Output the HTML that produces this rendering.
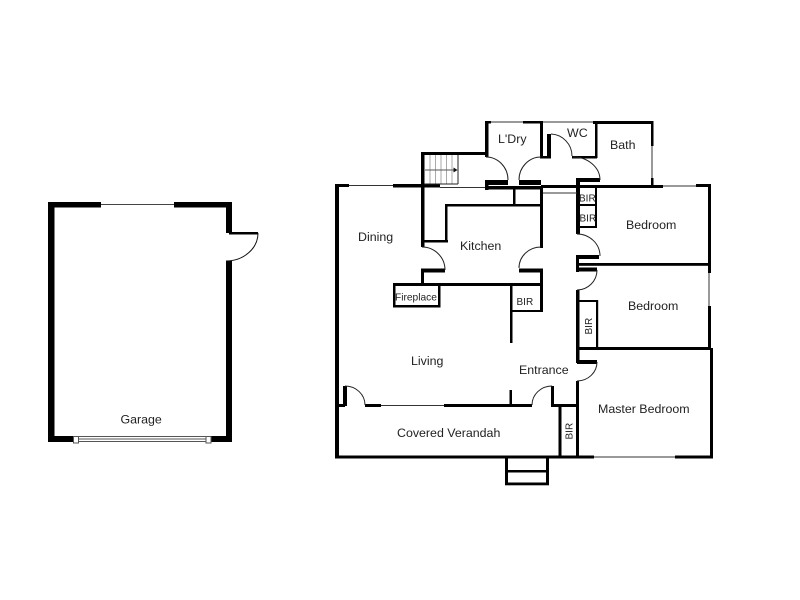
<!DOCTYPE html>
<html><head><meta charset="utf-8"><style>
html,body{margin:0;padding:0;background:#fff}
svg{display:block;filter:blur(.35px)}
text{font-family:"Liberation Sans",sans-serif;font-size:12.4px;fill:#222}
.s{font-size:10px}
</style></head><body>
<svg width="800" height="600" viewBox="0 0 800 600" xmlns="http://www.w3.org/2000/svg">
<rect width="800" height="600" fill="#fff"/>
<!-- Garage -->
<g fill="#000">
<rect x="48" y="202" width="53" height="5.5"/>
<rect x="174" y="202" width="58" height="5.5"/>
<rect x="48" y="202" width="6.5" height="240"/>
<rect x="226" y="202" width="6" height="31"/>
<rect x="226" y="261" width="6" height="181"/>
<rect x="48" y="436" width="25" height="6"/>
<rect x="207" y="436" width="25" height="6"/>
<rect x="229" y="232" width="29" height="2.5"/>
</g>
<path d="M101 204.5H174" stroke="#444" fill="none"/>
<path d="M258 233A32 28 0 0 1 226 261" fill="none" stroke="#111"/>
<g fill="#fff" stroke="#555">
<rect x="73.5" y="436.5" width="5" height="6.5"/>
<rect x="206" y="436.5" width="5" height="6.5"/>
<path d="M79 436.5H206M79 439H206M79 441.5H206" fill="none"/>
</g>
<!-- House walls -->
<g fill="#000">
<rect x="335" y="184" width="4" height="274"/>
<rect x="335" y="184" width="14" height="3"/>
<rect x="393" y="184" width="47" height="3.5"/>
<rect x="421" y="152" width="3.5" height="95"/>
<rect x="421" y="152" width="65" height="3"/>
<rect x="485" y="121" width="3.5" height="36"/>
<rect x="485" y="121" width="6" height="2.5"/>
<rect x="523" y="121" width="20" height="2.5"/>
<rect x="540" y="121" width="3" height="37"/>
<rect x="485" y="180" width="23" height="5"/>
<rect x="519" y="180" width="22" height="5"/>
<rect x="485" y="180" width="3.5" height="10"/>
<rect x="485" y="186" width="58" height="3.5"/>
<rect x="547" y="134" width="4" height="24"/>
<rect x="540" y="156" width="11" height="2.5"/>
<rect x="572" y="156" width="25" height="2.5"/>
<rect x="595" y="121" width="2.5" height="37"/>
<rect x="593" y="121" width="60" height="3"/>
<rect x="651" y="121" width="2.5" height="25"/>
<rect x="651" y="178" width="2.5" height="8"/>
<rect x="577" y="178" width="23" height="4"/>
<rect x="541" y="185" width="122" height="3"/>
<rect x="696" y="184" width="15" height="3"/>
<rect x="708" y="184" width="3" height="89"/>
<rect x="708" y="306" width="3" height="44"/>
<rect x="710" y="348" width="3" height="110"/>
<rect x="576" y="178" width="4" height="56"/>
<rect x="595" y="185" width="2" height="43"/>
<rect x="577" y="204" width="20" height="2"/>
<rect x="577" y="226" width="20" height="2"/>
<rect x="540" y="186" width="3" height="62"/>
<rect x="445" y="204" width="98" height="2.5"/>
<rect x="445" y="204" width="2.5" height="38"/>
<rect x="421" y="240" width="27" height="2.5"/>
<rect x="513" y="188" width="2.5" height="18"/>
<rect x="421" y="268.5" width="24" height="4"/>
<rect x="421" y="268.5" width="3" height="17"/>
<rect x="519" y="268.5" width="24" height="4"/>
<rect x="540" y="268.5" width="3" height="43"/>
<rect x="393" y="283" width="150" height="3"/>
<rect x="393" y="283" width="2.5" height="24.5"/>
<rect x="438" y="283" width="2.5" height="24.5"/>
<rect x="393" y="305" width="47.5" height="2.5"/>
<rect x="510" y="285" width="2.5" height="58"/>
<rect x="510" y="310" width="33" height="2"/>
<rect x="577" y="255" width="22" height="4"/>
<rect x="576" y="255" width="3" height="17"/>
<rect x="577" y="263" width="131" height="2.8"/>
<rect x="577" y="267.5" width="20" height="4"/>
<rect x="576" y="290" width="3.5" height="73"/>
<rect x="596" y="300" width="2.2" height="49"/>
<rect x="578" y="300" width="20" height="2"/>
<rect x="577" y="347" width="133" height="3"/>
<rect x="577" y="360" width="20" height="4"/>
<rect x="576" y="381" width="3" height="77"/>
<rect x="551" y="404" width="28" height="3"/>
<rect x="551" y="386" width="3" height="21"/>
<rect x="558.5" y="405" width="3" height="53"/>
<rect x="444" y="404" width="88" height="3"/>
<rect x="509.5" y="390" width="2.5" height="15"/>
<rect x="365" y="404" width="16" height="3"/>
<rect x="343" y="386" width="4" height="20"/>
<rect x="335" y="404" width="10" height="3"/>
<rect x="335" y="455.5" width="259" height="3"/>
<rect x="675" y="455.5" width="38" height="3"/>
<rect x="505" y="457" width="3" height="28"/>
<rect x="546" y="457" width="3" height="28"/>
<rect x="505" y="470" width="44" height="2.5"/>
<rect x="505" y="482.5" width="44" height="2.8"/>
</g>
<!-- Windows and thin lines -->
<path d="M349 185.5H393M440 187.5H485M491 122H523M543 122H593M652 146V178M663 186H696M709 273V306M381 405.5H444M594 457H675M543 193H577" stroke="#333" fill="none"/>
<!-- Stairs -->
<path d="M430 155V184M435.5 155V184M441 155V184M446.5 155V184M452 155V184" stroke="#aaa" fill="none"/>
<path d="M425 170H455" stroke="#555"/>
<path d="M458 155V184M424 184H458" stroke="#222" fill="none"/>
<path d="M453.5 167.5L457.5 170L453.5 172.5Z" fill="#111"/>
<!-- Door arcs -->
<path d="M486 157A22 23 0 0 1 508 180M519 180A22 23 0 0 1 541 157M551 134A22 22 0 0 1 572 156M573 157A27 23 0 0 1 600 180M422 247A23 23 0 0 1 445 270M519 268A22 21 0 0 1 541 247M577 234A23 22 0 0 1 600 256M597 270A20 20 0 0 1 577 290M597 362A20 19 0 0 1 577 381M532 405A20 19 0 0 1 552 386M345 386A20 19 0 0 1 365 405" stroke="#222" fill="none"/>
<!-- Labels -->
<text x="120.5" y="423.5">Garage</text>
<text x="358" y="241">Dining</text>
<text x="460" y="250">Kitchen</text>
<text x="498" y="143">L'Dry</text>
<text x="567" y="137">WC</text>
<text x="610" y="149">Bath</text>
<text x="626" y="229">Bedroom</text>
<text x="628" y="310">Bedroom</text>
<text x="598" y="413">Master Bedroom</text>
<text x="411" y="365">Living</text>
<text x="519" y="374">Entrance</text>
<text x="397" y="437">Covered Verandah</text>
<text class="s" x="395" y="300.5" style="font-size:10.2px">Fireplace</text>
<text class="s" x="516.5" y="305">BIR</text>
<text class="s" x="579" y="201.5">BIR</text>
<text class="s" x="579.5" y="221.5">BIR</text>
<text class="s" transform="translate(592,334.5) rotate(-90)">BIR</text>
<text class="s" transform="translate(572.5,439.5) rotate(-90)">BIR</text>
</svg>
</body></html>
